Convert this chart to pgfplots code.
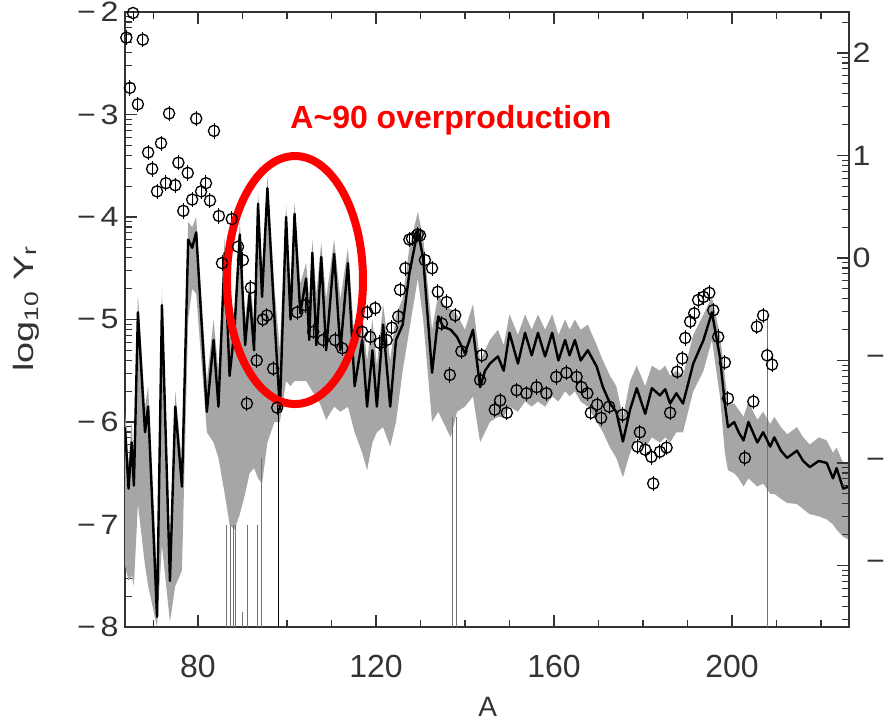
\documentclass[border=0pt]{standalone}
\usepackage{fontspec}
\setmainfont{Liberation Sans}
\newfontfamily\tickfont[FakeStretch=1.15]{Liberation Sans}
\newfontfamily\labfont[FakeStretch=1.35]{Liberation Sans}
\usepackage{pgfplots}
\pgfplotsset{compat=1.18}
\usepgfplotslibrary{fillbetween}
\usepackage{pgfplotstable}

\pgfplotstableread{
A y hi lo
63.6 -6.05 -5.90 -7.40
64.4 -6.65 -6.40 -7.55
65.1 -6.20 -6.00 -7.50
65.6 -6.62 -6.40 -7.60
66.5 -4.93 -4.75 -6.80
68.1 -6.10 -5.85 -7.40
68.8 -5.85 -5.65 -7.60
70.8 -7.90 -7.50 -8.00
71.9 -4.86 -4.70 -7.20
73.7 -7.55 -7.20 -7.95
74.9 -5.85 -5.70 -7.60
76.4 -6.63 -6.40 -7.45
77.8 -4.22 -4.05 -5.00
78.7 -4.30 -4.10 -4.70
79.6 -4.15 -4.00 -4.75
82.0 -5.90 -5.60 -6.10
83.5 -5.20 -5.00 -6.20
84.6 -5.85 -5.50 -6.35
86.0 -4.35 -4.20 -6.70
87.1 -5.55 -5.20 -7.00
88.2 -5.10 -4.90 -7.05
89.4 -4.17 -4.05 -6.90
90.6 -5.25 -5.00 -6.70
91.6 -4.75 -4.60 -6.50
92.6 -5.30 -5.00 -6.45
93.5 -3.87 -3.75 -6.55
94.4 -4.78 -4.50 -6.60
95.6 -3.72 -3.60 -6.20
97.2 -5.00 -4.70 -6.00
98.4 -5.88 -5.30 -6.00
99.8 -4.00 -3.88 -5.60
100.8 -5.00 -4.70 -5.65
101.7 -3.97 -3.85 -5.60
103.0 -4.94 -4.65 -5.60
104.3 -4.60 -4.45 -5.60
105.0 -5.20 -4.80 -5.65
105.7 -4.35 -4.22 -5.70
106.6 -5.25 -4.75 -5.75
107.7 -4.39 -4.25 -5.85
108.8 -5.30 -4.80 -5.98
110.6 -4.36 -4.22 -5.85
112.0 -5.30 -4.80 -5.90
113.7 -4.45 -4.30 -5.85
115.2 -5.65 -5.20 -6.10
116.9 -5.20 -4.95 -6.30
118.0 -5.85 -5.40 -6.47
119.2 -5.30 -5.00 -6.20
120.2 -5.85 -5.45 -6.10
121.6 -5.05 -4.85 -6.05
123.2 -5.85 -5.40 -6.24
124.5 -5.20 -4.95 -6.00
126.0 -5.05 -4.80 -5.50
127.5 -4.55 -4.30 -5.10
129.4 -4.13 -3.95 -4.60
130.6 -4.40 -4.20 -5.00
132.6 -5.52 -5.10 -6.00
134.0 -4.97 -4.75 -5.90
135.1 -5.07 -4.85 -6.00
136.8 -5.10 -4.90 -6.15
138.2 -5.17 -4.95 -5.90
140.0 -5.33 -5.10 -5.85
141.8 -5.10 -4.85 -5.75
143.4 -5.66 -5.40 -6.20
144.5 -5.50 -5.30 -6.10
145.6 -5.43 -5.20 -6.00
147.4 -5.36 -5.10 -5.95
148.7 -5.50 -5.25 -5.95
150.0 -5.13 -4.95 -5.85
151.9 -5.43 -5.15 -5.90
153.5 -5.13 -4.95 -5.80
155.0 -5.35 -5.10 -5.85
156.4 -5.13 -4.95 -5.80
158.0 -5.36 -5.10 -5.85
159.6 -5.13 -4.95 -5.75
161.0 -5.40 -5.15 -5.80
162.5 -5.20 -5.00 -5.70
163.5 -5.35 -5.10 -5.75
164.7 -5.20 -5.00 -5.70
166.0 -5.40 -5.10 -5.80
167.6 -5.30 -5.05 -5.85
169.6 -5.46 -5.25 -6.00
171.0 -5.66 -5.40 -6.10
172.6 -5.82 -5.55 -6.25
174.0 -5.90 -5.65 -6.35
175.5 -6.19 -5.95 -6.54
177.1 -5.88 -5.60 -6.30
178.6 -5.67 -5.45 -6.15
180.5 -5.92 -5.65 -6.25
182.0 -5.67 -5.45 -6.15
183.8 -5.74 -5.50 -6.20
185.0 -5.68 -5.45 -6.15
186.1 -5.82 -5.55 -6.20
187.5 -5.72 -5.50 -6.10
189.0 -5.82 -5.55 -6.10
191.3 -5.43 -5.15 -5.70
193.6 -5.20 -4.95 -5.50
195.5 -4.93 -4.78 -5.20
197.3 -5.37 -5.15 -5.75
198.4 -5.82 -5.55 -6.30
199.1 -6.05 -5.82 -6.47
200.5 -6.00 -5.82 -6.50
201.5 -6.10 -5.88 -6.55
202.6 -6.18 -5.95 -6.63
203.7 -6.00 -5.80 -6.55
205.7 -6.20 -5.98 -6.63
207.0 -6.10 -5.90 -6.60
208.6 -6.24 -6.02 -6.70
209.5 -6.15 -5.95 -6.70
211.0 -6.28 -6.05 -6.75
212.4 -6.35 -6.12 -6.79
214.6 -6.28 -6.05 -6.80
216.0 -6.38 -6.15 -6.85
217.5 -6.44 -6.22 -6.90
219.5 -6.38 -6.15 -6.92
221.3 -6.40 -6.18 -6.95
222.7 -6.55 -6.30 -7.00
223.5 -6.45 -6.25 -7.05
225.0 -6.65 -6.40 -7.12
226.3 -6.63 -6.40 -7.15
}\model

\pgfplotstableread{
A y
65.4 -2.01
63.9 -2.25
67.6 -2.27
64.7 -2.74
66.5 -2.90
73.5 -2.99
79.6 -3.04
83.6 -3.16
68.8 -3.37
71.7 -3.28
69.7 -3.53
75.6 -3.47
77.7 -3.57
70.8 -3.75
72.8 -3.67
74.9 -3.69
81.8 -3.67
80.7 -3.75
78.7 -3.83
82.7 -3.84
76.7 -3.94
84.7 -3.99
87.6 -4.02
85.4 -4.45
89.0 -4.29
90.1 -4.42
91.9 -4.69
91.0 -5.82
93.2 -5.40
94.6 -5.00
95.5 -4.96
96.9 -5.48
97.8 -5.86
102.3 -4.93
104.1 -4.86
105.9 -5.12
108.1 -5.20
110.8 -5.20
112.4 -5.28
116.9 -5.12
118.0 -4.93
118.7 -5.17
119.8 -4.89
120.9 -5.23
122.4 -5.20
123.6 -5.08
125.0 -4.97
125.4 -4.71
126.6 -4.50
127.5 -4.22
128.1 -4.21
129.4 -4.17
129.9 -4.18
131.0 -4.42
132.6 -4.50
133.9 -4.73
135.9 -4.83
137.8 -4.96
134.8 -5.04
139.2 -5.31
136.6 -5.54
143.8 -5.35
143.4 -5.59
146.7 -5.88
147.9 -5.79
149.4 -5.91
151.6 -5.69
153.8 -5.72
156.1 -5.66
158.3 -5.72
160.5 -5.56
162.8 -5.52
165.1 -5.56
166.2 -5.66
167.5 -5.72
168.3 -5.91
169.7 -5.83
170.6 -5.96
172.4 -5.85
175.4 -5.93
179.3 -6.10
178.8 -6.24
180.5 -6.27
181.9 -6.34
183.8 -6.29
185.3 -6.25
182.3 -6.60
186.1 -5.91
187.7 -5.51
188.8 -5.38
189.5 -5.18
190.6 -5.02
191.5 -4.94
192.4 -4.81
193.6 -4.78
194.9 -4.74
195.8 -4.91
196.9 -5.17
198.4 -5.42
199.1 -5.77
204.8 -5.80
202.9 -6.35
205.6 -5.07
207.0 -4.96
207.9 -5.35
209.0 -5.44
}\solar

\begin{document}
\begin{tikzpicture}
\begin{axis}[name=main,
  scale only axis, width=724pt, height=615pt,
  xmin=63.6, xmax=226.3, ymin=-8, ymax=-2,
  xtick={80,120,160,200}, xticklabels={80,120,160,200},
  minor xtick={70,90,100,110,130,140,150,170,180,190,210,220},
  ytick={-8,-7,-6,-5,-4,-3,-2},
  yticklabels={−\,8,−\,7,−\,6,−\,5,−\,4,−\,3,−\,2},
  minor ytick={-7.699,-7.523,-7.398,-7.301,-7.222,-7.155,-7.097,-7.046,
    -6.699,-6.523,-6.398,-6.301,-6.222,-6.155,-6.097,-6.046,
    -5.699,-5.523,-5.398,-5.301,-5.222,-5.155,-5.097,-5.046,
    -4.699,-4.523,-4.398,-4.301,-4.222,-4.155,-4.097,-4.046,
    -3.699,-3.523,-3.398,-3.301,-3.222,-3.155,-3.097,-3.046,
    -2.699,-2.523,-2.398,-2.301,-2.222,-2.155,-2.097,-2.046},
  ytick pos=left,
  tick align=inside,
  major tick length=12pt, minor tick length=7pt,
  axis line style={black!80, line width=1.4pt},
  every tick/.style={black!80, line width=1.2pt},
  yticklabel style={font=\tickfont\fontsize{28}{30}\selectfont, text=black!80, xshift=-3pt},
  xticklabel style={font=\fontsize{32}{34}\selectfont, text=black!80, yshift=-25pt},
  xlabel={A},
  xlabel style={font=\fontsize{28}{30}\selectfont, text=black!80,
    at={(axis description cs:0.501,-0.130)}, anchor=center},
  ylabel={log\textsubscript{10} Y\textsubscript{r}},
  ylabel style={font=\labfont\fontsize{28}{30}\selectfont, text=black!80,
    at={(axis description cs:-0.137,0.517)}, anchor=center},
  unbounded coords=jump,
  clip=true,
]
\addplot[draw=none, name path=hi, forget plot] table[x=A, y=hi]{\model};
\addplot[draw=none, name path=lo, forget plot] table[x=A, y=lo]{\model};
\addplot[fill=black!35, draw=none] fill between[of=hi and lo];
\addplot[black!55, line width=0.9pt] coordinates {
 (86.5,-7.0) (86.5,-8) (86.5,nan)
 (87.2,-7.0) (87.2,-8) (87.2,nan)
 (87.9,-7.0) (87.9,-8) (87.9,nan)
 (88.5,-7.0) (88.5,-8) (88.5,nan)
 (90.1,-7.85) (90.1,-8) (90.1,nan)
 (91.2,-7.0) (91.2,-8) (91.2,nan)
 (93.3,-7.0) (93.3,-8) (93.3,nan)
 (94.2,-6.35) (94.2,-8) (94.2,nan)
 (137.1,-5.95) (137.1,-8) (137.1,nan)
 (138.0,-5.95) (138.0,-8) (138.0,nan)
 (207.9,-4.96) (207.9,-8)
};
\addplot[black, line width=1pt] coordinates {(98.2,-5.86) (98.2,-8)};
\addplot[black, line width=2.4pt, line join=round] table[x=A, y=y]{\model};
\addplot[only marks, mark=o, mark size=5.6pt, mark options={line width=1.3pt, black},
  error bars/.cd, y dir=both, y fixed=0.075, error mark=none,
  error bar style={line width=1pt, black}] table[x=A, y=y]{\solar};
\draw[red, line width=8pt] (axis cs:101.8,-4.615) ellipse [x radius=68pt, y radius=124pt];
\node[text=red, font=\fontsize{32}{34}\selectfont\bfseries, anchor=base]
  at (axis cs:136.85,-3.137) {A\textasciitilde 90 overproduction};
\end{axis}
\begin{axis}[
  scale only axis, width=724pt, height=615pt,
  at={(main.south west)}, anchor=south west,
  xmin=63.6, xmax=226.3, ymin=-3.6, ymax=2.4,
  axis x line=none, axis y line*=right,
  ytick={-3,-2,-1,0,1,2},
  yticklabels={\ \,−,\ \,−,\ \,−,0,1,2},
  minor ytick={-3.523,-3.398,-3.301,-3.222,-3.155,-3.097,-3.046,
    -2.699,-2.523,-2.398,-2.301,-2.222,-2.155,-2.097,-2.046,
    -1.699,-1.523,-1.398,-1.301,-1.222,-1.155,-1.097,-1.046,
    -0.699,-0.523,-0.398,-0.301,-0.222,-0.155,-0.097,-0.046,
    0.301,0.477,0.602,0.699,0.778,0.845,0.903,0.954,
    1.301,1.477,1.602,1.699,1.778,1.845,1.903,1.954,2.301},
  tick align=inside,
  major tick length=12pt, minor tick length=7pt,
  axis line style={black!80, line width=1.4pt},
  every tick/.style={black!80, line width=1.2pt},
  yticklabel style={font=\tickfont\fontsize{28}{30}\selectfont, text=black!80, anchor=west},
]
\addplot[draw=none] coordinates {(100,0)};
\end{axis}
\pgfresetboundingbox
\path[use as bounding box] ([shift={(-125pt,-96pt)}]main.south west) rectangle ++(890pt,723pt);
\end{tikzpicture}
\end{document}
